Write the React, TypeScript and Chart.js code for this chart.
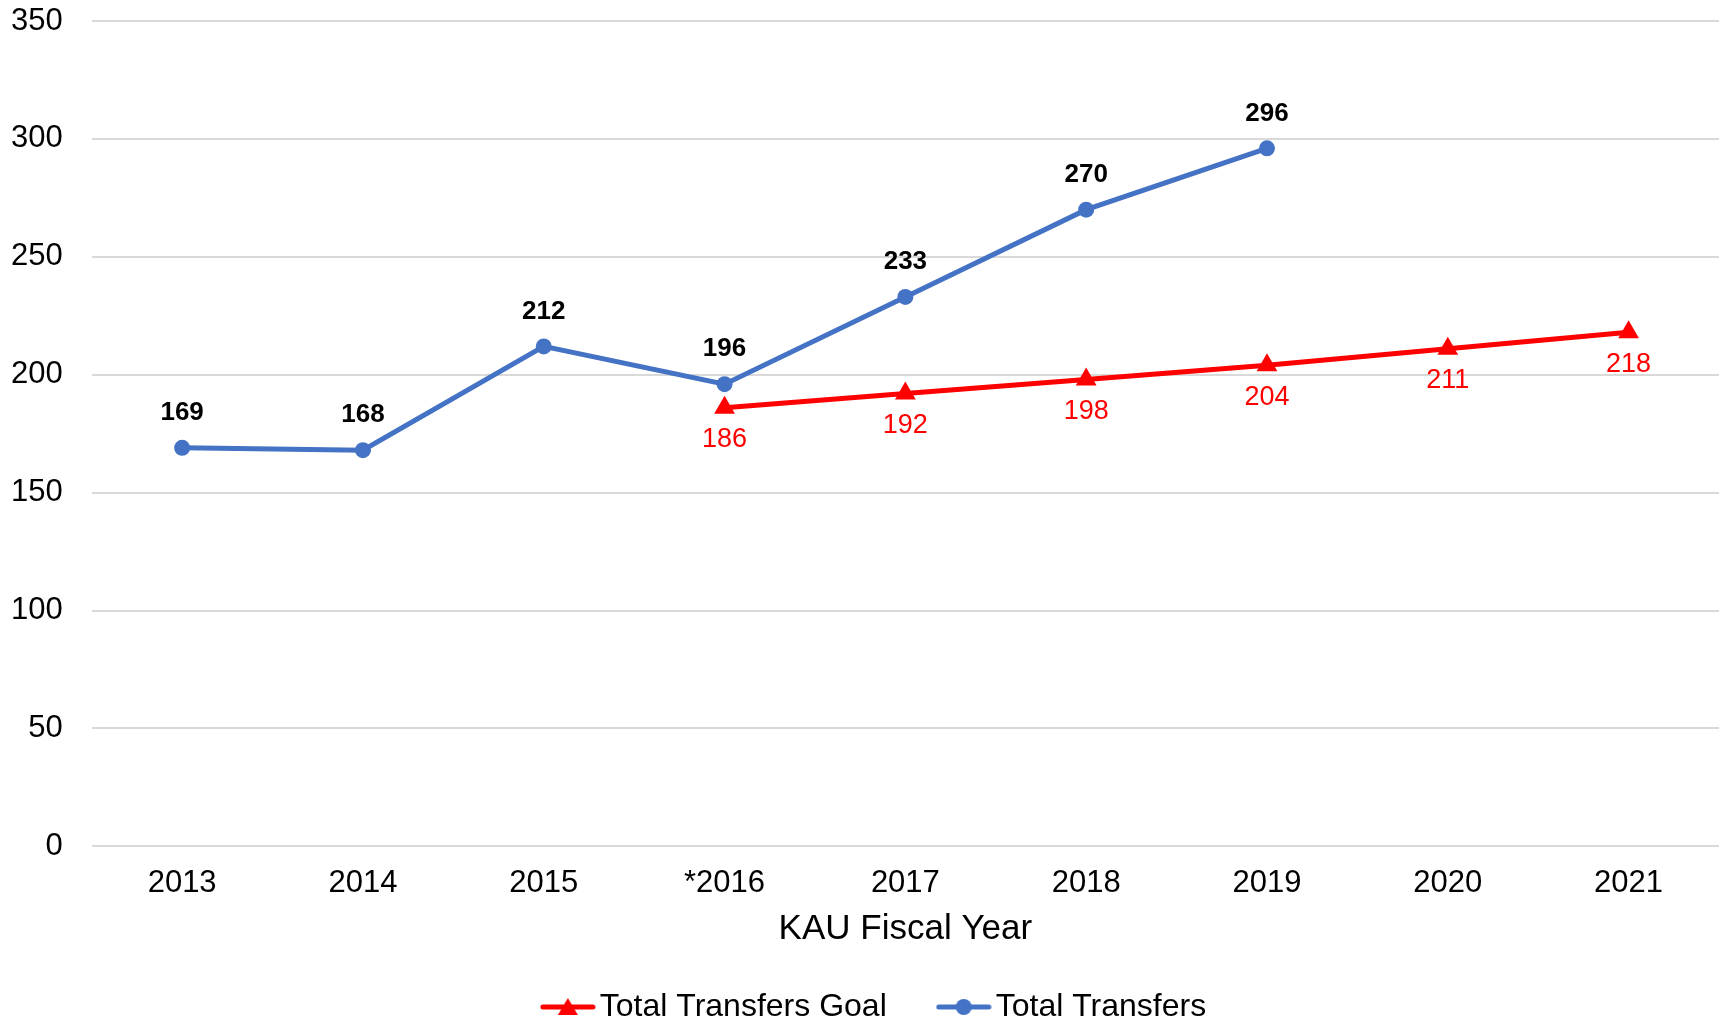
import React, { useEffect, useRef } from "react";
import { Chart, registerables } from "chart.js";

Chart.register(...registerables);

const categories = ["2013", "2014", "2015", "*2016", "2017", "2018", "2019", "2020", "2021"];
const totalTransfers = [169, 168, 212, 196, 233, 270, 296, null, null];
const transfersGoal = [null, null, null, 186, 192, 198, 204, 211, 218];
const yMin = 0;
const yMax = 350;
const yStep = 50;

const FONT = '"Liberation Sans", Arial, sans-serif';
const RED = "#FF0000";
const BLUE = "#4472C4";

function legendIcon(color: string, shape: "triangle" | "circle") {
  const c = document.createElement("canvas");
  c.width = 56;
  c.height = 24;
  const g = c.getContext("2d")!;
  g.strokeStyle = color;
  g.fillStyle = color;
  g.lineWidth = 5;
  g.lineCap = "round";
  g.beginPath();
  g.moveTo(3, 12);
  g.lineTo(53, 12);
  g.stroke();
  g.beginPath();
  if (shape === "triangle") {
    g.moveTo(28, 3);
    g.lineTo(38, 20);
    g.lineTo(18, 20);
    g.closePath();
  } else {
    g.arc(28, 12, 8, 0, Math.PI * 2);
  }
  g.fill();
  return c;
}

const valueLabels = {
  id: "valueLabels",
  afterDatasetsDraw(chart: any) {
    const ctx = chart.ctx;
    chart.data.datasets.forEach((ds: any, i: number) => {
      const meta = chart.getDatasetMeta(i);
      const isGoal = i === 0;
      meta.data.forEach((pt: any, j: number) => {
        const v = ds.data[j];
        if (v == null) return;
        ctx.save();
        ctx.font = (isGoal ? "27px " : "bold 26px ") + FONT;
        ctx.fillStyle = isGoal ? RED : "#000000";
        ctx.textAlign = "center";
        ctx.textBaseline = "middle";
        ctx.fillText(String(v), pt.x, pt.y + (isGoal ? 32 : -35));
        ctx.restore();
      });
    });
  },
};

export default function App() {
  const ref = useRef<HTMLCanvasElement>(null);
  useEffect(() => {
    document.body.style.margin = "0";
    const chart = new Chart(ref.current!, {
      type: "line",
      data: {
        labels: categories,
        datasets: [
          {
            label: "Total Transfers Goal",
            data: transfersGoal,
            borderColor: RED,
            backgroundColor: RED,
            borderWidth: 5,
            pointStyle: "triangle",
            pointRadius: 12,
            pointBorderWidth: 0,
            tension: 0,
          },
          {
            label: "Total Transfers",
            data: totalTransfers,
            borderColor: BLUE,
            backgroundColor: BLUE,
            borderWidth: 5,
            pointStyle: "circle",
            pointRadius: 8,
            pointBorderWidth: 0,
            tension: 0,
          },
        ],
      },
      options: {
        responsive: false,
        animation: false,
        layout: { autoPadding: false, padding: { left: 8, right: -31, top: 0, bottom: -11 } },
        scales: {
          x: {
            offset: true,
            grid: { display: false },
            border: { display: false },
            ticks: { color: "#000", font: { family: FONT, size: 31 }, padding: 11, maxRotation: 0 },
            title: {
              display: true,
              text: "KAU Fiscal Year",
              color: "#000",
              font: { family: FONT, size: 35 },
              padding: { top: -5.5, bottom: -20 },
            },
          },
          y: {
            min: yMin,
            max: yMax,
            grid: { color: "#D9D9D9", lineWidth: 2, drawTicks: false },
            border: { display: false },
            ticks: { stepSize: yStep, color: "#000", font: { family: FONT, size: 31 }, padding: 29 },
            afterFit: (scale: any) => {
              scale.width = scale.width - 26;
              scale.paddingTop = 21;
              scale.paddingBottom = 21;
            },
          },
        },
        plugins: {
          tooltip: { enabled: false },
          legend: {
            position: "bottom",
            labels: {
              color: "#000",
              font: { family: FONT, size: 32 },
              usePointStyle: true,
              pointStyleWidth: 32,
              padding: 61,
              generateLabels: (ch: any) =>
                ch.data.datasets.map((ds: any, i: number) => ({
                  text: ds.label,
                  fontColor: "#000",
                  pointStyle: legendIcon(ds.borderColor, i === 0 ? "triangle" : "circle"),
                  datasetIndex: i,
                  lineWidth: 0,
                  hidden: false,
                })),
            },
          },
        },
      },
      plugins: [valueLabels],
    });
    return () => chart.destroy();
  }, []);
  return (
    <div style={{ width: 1719, height: 1022 }}>
      <canvas ref={ref} width={1719} height={1022} />
    </div>
  );
}
